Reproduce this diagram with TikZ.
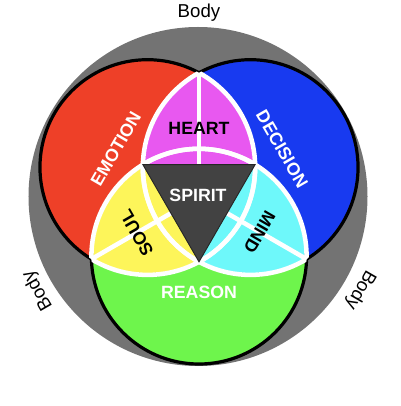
\documentclass[tikz,border=0pt]{standalone}
\usepackage{fontspec}
\setmainfont{Liberation Sans}
\begin{document}
\begin{tikzpicture}[x=0.75pt,y=0.75pt,
  lbl/.style={font=\fontsize{13.3}{15}\selectfont\bfseries, inner sep=0pt},
  bodytxt/.style={font=\fontsize{14}{16}\selectfont, inner sep=0pt},
  whiteline/.style={draw=white, line width=3.4pt},
  blackline/.style={draw=black, line width=2.4pt}]
\definecolor{cGray}{RGB}{115,115,115}
\definecolor{cRed}{RGB}{238,64,40}
\definecolor{cBlue}{RGB}{24,58,240}
\definecolor{cGreen}{RGB}{110,245,76}
\definecolor{cMag}{RGB}{232,88,240}
\definecolor{cYel}{RGB}{253,245,90}
\definecolor{cCyan}{RGB}{110,248,250}
\definecolor{cTri}{RGB}{66,66,66}
\useasboundingbox (-199,-209) rectangle (201,197);
\def\R{107.6}
\coordinate (O) at (0,0);
\coordinate (cR) at (150:59.4);
\coordinate (cB) at (30:59.4);
\coordinate (cG) at (270:59.4);
\coordinate (oT) at (90:124.2);
\coordinate (oL) at (210:124.2);
\coordinate (oR) at (330:124.2);
\coordinate (tL) at (150:64.8);
\coordinate (tR) at (30:64.8);
\coordinate (tB) at (270:64.8);
% body circle
\fill[cGray] (-1,0.5) circle (169.5);
% main circles
\fill[cRed] (cR) circle (\R);
\fill[cBlue] (cB) circle (\R);
\fill[cGreen] (cG) circle (\R);
% lens regions
\begin{scope}
  \clip (cR) circle (\R);
  \clip (cB) circle (\R);
  \clip (-300,32.4) -- (300,32.4) -- (300,300) -- (-300,300) -- cycle;
  \fill[cMag] (-300,-300) rectangle (300,300);
\end{scope}
\begin{scope}
  \clip (cR) circle (\R);
  \clip (cG) circle (\R);
  \clip[rotate=120] (-300,32.4) -- (300,32.4) -- (300,300) -- (-300,300) -- cycle;
  \fill[cYel] (-300,-300) rectangle (300,300);
\end{scope}
\begin{scope}
  \clip (cB) circle (\R);
  \clip (cG) circle (\R);
  \clip[rotate=240] (-300,32.4) -- (300,32.4) -- (300,300) -- (-300,300) -- cycle;
  \fill[cCyan] (-300,-300) rectangle (300,300);
\end{scope}
% outer black outlines
\draw[blackline] (cR) circle (\R);
\draw[blackline] (cB) circle (\R);
\draw[blackline] (cG) circle (\R);
% inner white boundaries
\begin{scope}\clip (cB) circle (\R); \draw[whiteline] (cR) circle (\R); \draw[whiteline] (cG) circle (\R); \end{scope}
\begin{scope}\clip (cR) circle (\R); \draw[whiteline] (cB) circle (\R); \draw[whiteline] (cG) circle (\R); \end{scope}
\begin{scope}\clip (cG) circle (\R); \draw[whiteline] (cR) circle (\R); \draw[whiteline] (cB) circle (\R); \end{scope}
% radial white lines
\draw[whiteline] (oT) -- (O);
\draw[whiteline] (oL) -- (O);
\draw[whiteline] (oR) -- (O);
% spirit triangle
\filldraw[fill=cTri, draw=black!85, line width=0.7pt] (tL) -- (tR) -- (tB) -- cycle;
% labels
\node[lbl, white, rotate=60] (emotion) at (150:96) {EMOTION};
\node[lbl, white, rotate=-60] (decision) at (30:96) {DECISION};
\node[lbl, white] (reason) at (270:95) {REASON};
\node[lbl, black] (heart) at (90:69) {HEART};
\node[lbl, black, rotate=120] (soul) at (210:72) {SOUL};
\node[lbl, black, rotate=240] (mind) at (330:70) {MIND};
\node[lbl, white] (spirit) at (-1,2) {SPIRIT};
\node[bodytxt, rotate=0] (bodyT) at (90:184) {Body};
\node[bodytxt, rotate=120] (bodyL) at (210:186) {Body};
\node[bodytxt, rotate=240] (bodyR) at (330:186) {Body};
\end{tikzpicture}
\end{document}
